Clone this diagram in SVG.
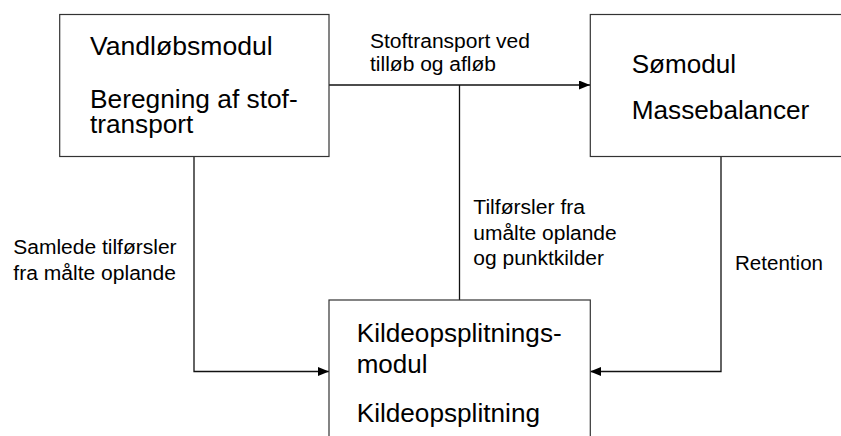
<svg xmlns="http://www.w3.org/2000/svg" width="841" height="436" viewBox="0 0 841 436">
<style>
.box{fill:#fff;stroke:#333;stroke-width:1.2}
.big{font-family:"Liberation Sans",Arial,sans-serif;font-size:25px;fill:#000}
.lbl{font-family:"Liberation Sans",Arial,sans-serif;font-size:20px;fill:#000}
.con{fill:none;stroke:#111;stroke-width:1.3}
</style>
<defs>
<marker id="arr" markerWidth="11" markerHeight="9" refX="11" refY="4.5" orient="auto" markerUnits="userSpaceOnUse">
<path d="M0,0 L11,4.5 L0,9 Z" fill="#000"/>
</marker>
</defs>
<rect width="841" height="436" fill="#fff"/>
<g id="connectors">
<path class="con" d="M329,85 H590" marker-end="url(#arr)"/>
<path class="con" d="M459.5,85 V300"/>
<path class="con" d="M194,156.5 V371.5 H329" marker-end="url(#arr)"/>
<path class="con" d="M721,156.5 V371.5 H590" marker-end="url(#arr)"/>
</g>
<g id="vandlob">
<rect class="box" x="59.7" y="14.5" width="269.3" height="142"/>
<text class="big" x="90" y="55.3" textLength="182.7" lengthAdjust="spacingAndGlyphs">Vandløbsmodul</text>
<text class="big" x="90" y="107.5" textLength="207.7" lengthAdjust="spacingAndGlyphs">Beregning af stof-</text>
<text class="big" x="90" y="133.3" textLength="103.3" lengthAdjust="spacingAndGlyphs">transport</text>
</g>
<g id="somodul">
<rect class="box" x="590.3" y="14.5" width="270" height="142"/>
<text class="big" x="631.7" y="72.5" textLength="104.3" lengthAdjust="spacingAndGlyphs">Sømodul</text>
<text class="big" x="631.7" y="119" textLength="177.6" lengthAdjust="spacingAndGlyphs">Massebalancer</text>
</g>
<g id="kildeopsplitning">
<rect class="box" x="329" y="300" width="261.3" height="160"/>
<text class="big" x="356.7" y="341.7" textLength="205" lengthAdjust="spacingAndGlyphs">Kildeopsplitnings-</text>
<text class="big" x="356.7" y="372.5" textLength="70.8" lengthAdjust="spacingAndGlyphs">modul</text>
<text class="big" x="356.7" y="421.5" textLength="183.3" lengthAdjust="spacingAndGlyphs">Kildeopsplitning</text>
</g>
<g id="labels">
<text class="lbl" x="370" y="47.5" textLength="160" lengthAdjust="spacingAndGlyphs">Stoftransport ved</text>
<text class="lbl" x="370" y="71" textLength="126" lengthAdjust="spacingAndGlyphs">tilløb og afløb</text>
<text class="lbl" x="13.3" y="254" textLength="163.3" lengthAdjust="spacingAndGlyphs">Samlede tilførsler</text>
<text class="lbl" x="13.3" y="280" textLength="162.7" lengthAdjust="spacingAndGlyphs">fra målte oplande</text>
<text class="lbl" x="473.3" y="213.5" textLength="111.7" lengthAdjust="spacingAndGlyphs">Tilførsler fra</text>
<text class="lbl" x="473.3" y="240" textLength="143.4" lengthAdjust="spacingAndGlyphs">umålte oplande</text>
<text class="lbl" x="473.3" y="265" textLength="130.7" lengthAdjust="spacingAndGlyphs">og punktkilder</text>
<text class="lbl" x="735" y="270" textLength="88" lengthAdjust="spacingAndGlyphs">Retention</text>
</g>
</svg>
